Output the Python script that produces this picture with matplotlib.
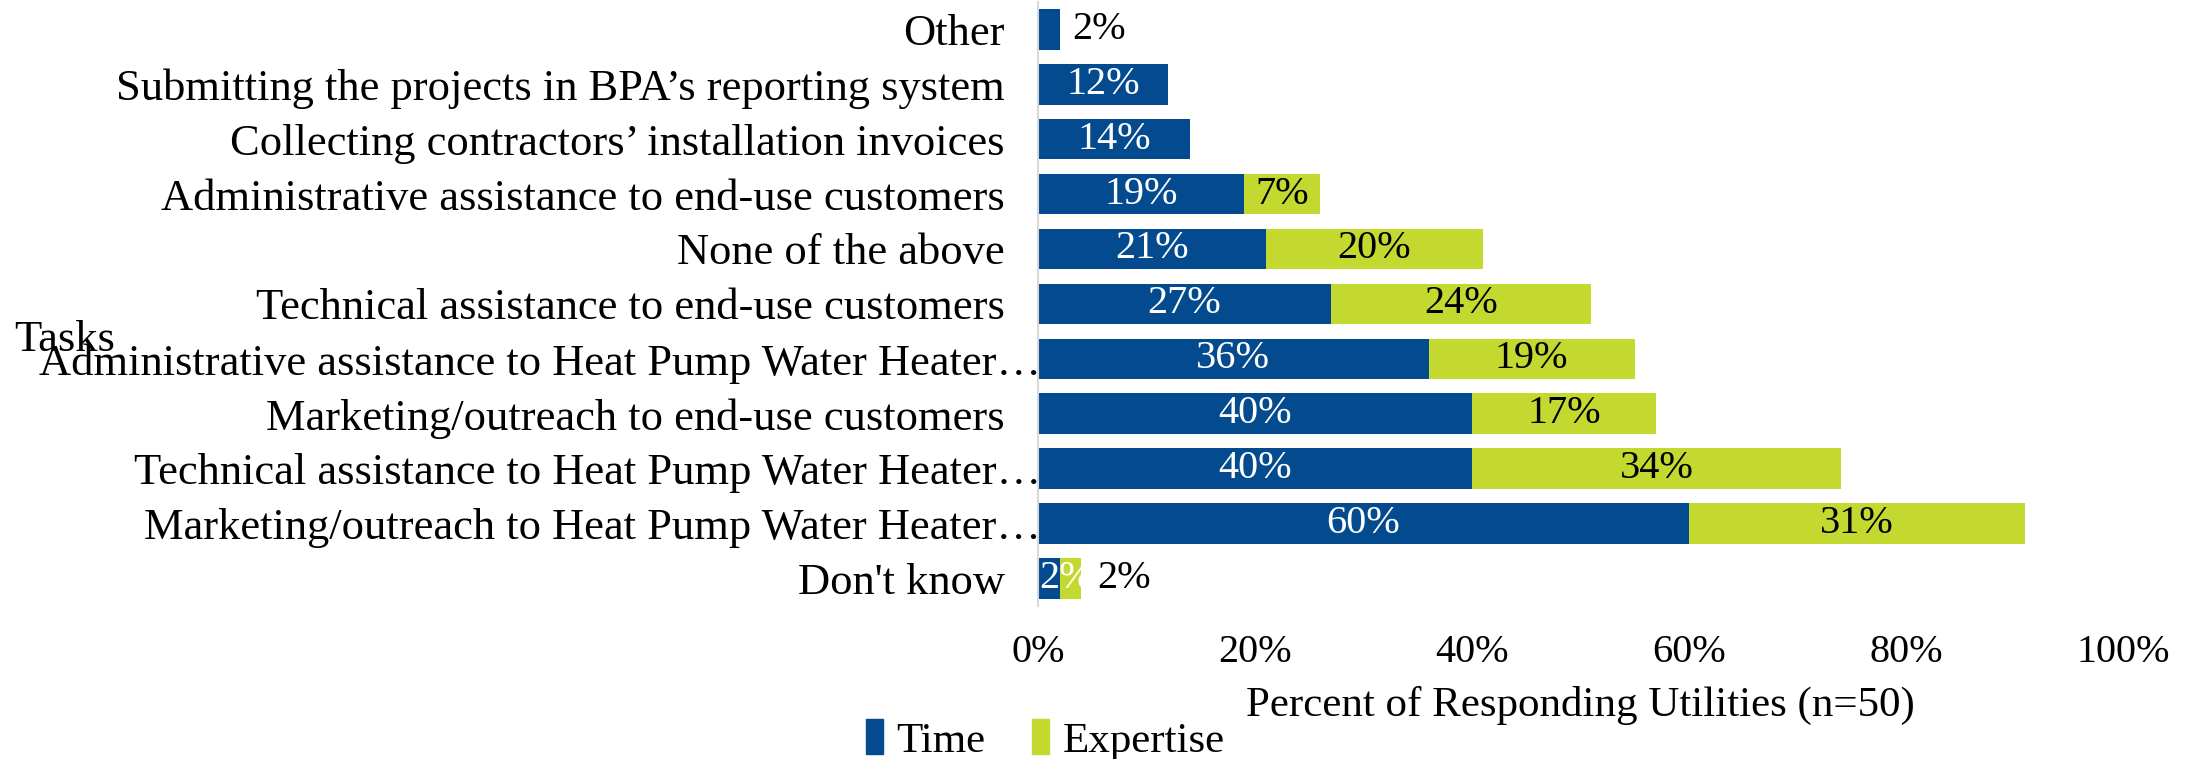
import matplotlib.pyplot as plt
from matplotlib.transforms import ScaledTranslation
from matplotlib.patches import Patch

# Data, top to bottom as drawn
tasks = [
    "Other",
    "Submitting the projects in BPA\u2019s reporting system",
    "Collecting contractors\u2019 installation invoices",
    "Administrative assistance to end-use customers",
    "None of the above",
    "Technical assistance to end-use customers",
    "Administrative assistance to Heat Pump Water Heater\u2026",
    "Marketing/outreach to end-use customers",
    "Technical assistance to Heat Pump Water Heater\u2026",
    "Marketing/outreach to Heat Pump Water Heater\u2026",
    "Don't know",
]
time_pct = [2, 12, 14, 19, 21, 27, 36, 40, 40, 60, 2]
expertise_pct = [0, 0, 0, 7, 20, 24, 19, 17, 34, 31, 2]
x_ticks = [0, 20, 40, 60, 80, 100]

BLUE = "#034a8f"
LIME = "#c3d92f"
FONT = "Liberation Serif"

plt.rcParams["font.family"] = FONT

fig = plt.figure(figsize=(21.94, 7.59), dpi=100)
ax = fig.add_axes([0.4731, 0.2016, 0.4945, 0.7960])

y = list(range(len(tasks)))
ax.barh(y, time_pct, height=0.74, color=BLUE, label="Time")
ax.barh(y, expertise_pct, left=time_pct, height=0.74, color=LIME, label="Expertise")

ax.set_xlim(0, 100)
ax.set_ylim(len(tasks) - 0.5, -0.5)
ax.set_yticks(y)
ax.set_yticklabels(tasks, fontsize=32)
ax.set_xticks(x_ticks)
ax.set_xticklabels([f"{t}%" for t in x_ticks], fontsize=29)
ax.tick_params(axis="y", length=0, pad=24)
ax.tick_params(axis="x", length=0, pad=20)

# truncated labels sit closer to the axis
for lab in ax.get_yticklabels():
    if lab.get_text().endswith("\u2026"):
        lab.set_transform(lab.get_transform() + ScaledTranslation(0.36, 0, fig.dpi_scale_trans))

for s in ["top", "right", "bottom"]:
    ax.spines[s].set_visible(False)
ax.spines["left"].set_color("#d9d9d9")
ax.spines["left"].set_linewidth(1.5)

ax.set_xlabel("Percent of Responding Utilities (n=50)", fontsize=31, labelpad=11)

# value labels
vsize = 29
for i, (t, e) in enumerate(zip(time_pct, expertise_pct)):
    if tasks[i] == "Other":
        ax.text(t + 1.2, i, f"{t}%", ha="left", va="center", fontsize=vsize, color="black")
    elif tasks[i] == "Don't know":
        ax.text(0.1, i, f"{t}%", ha="left", va="center", fontsize=vsize, color="white")
        ax.text(t + e + 1.5, i, f"{e}%", ha="left", va="center", fontsize=vsize, color="black")
    else:
        ax.text(t / 2, i, f"{t}%", ha="center", va="center", fontsize=vsize, color="white")
        if e > 0:
            ax.text(t + e / 2, i, f"{e}%", ha="center", va="center", fontsize=vsize, color="black")

fig.text(14 / 2194, 1 - 340 / 759, "Tasks", ha="left", va="center", fontsize=32)

handles = [Patch(color=BLUE, label="Time"), Patch(color=LIME, label="Expertise")]
fig.legend(handles=handles, loc="center", bbox_to_anchor=(1045 / 2194, 1 - 740 / 759),
           ncol=2, frameon=False, fontsize=31, handlelength=0.4, handleheight=0.85,
           handletextpad=0.3, columnspacing=1.1)

fig.savefig("out.png", dpi=100)
